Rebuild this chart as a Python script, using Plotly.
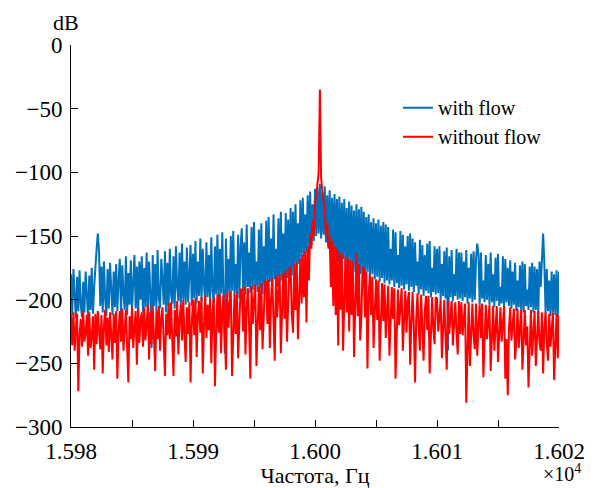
import plotly.graph_objects as go
import numpy as np

# frequency grid of the spectrum, Hz
freq_start = 15980.0
freq_step = 0.1

# spectrum level, dB (one row = 2 Hz)
with_flow = [
    -180, -212, -176, -198, -215, -182, -209, -177, -204, -214, -186, -210, -178, -196, -216, -181, -208, -175, -211, -190,
    -172, -160, -148, -163, -205, -174, -210, -170, -199, -213, -176, -207, -171, -193, -212, -178, -206, -172, -209, -185,
    -168, -211, -173, -195, -208, -166, -212, -179, -204, -169, -209, -187, -165, -207, -174, -213, -170, -200, -166, -210,
    -175, -206, -163, -209, -170, -194, -238, -165, -205, -172, -208, -161, -199, -207, -168, -184, -204, -162, -210, -171,
    -205, -160, -196, -203, -166, -207, -158, -190, -201, -163, -206, -156, -200, -170, -204, -159, -202, -181, -157, -205,
    -164, -199, -154, -203, -170, -197, -152, -201, -160, -188, -202, -155, -198, -165, -200, -151, -193, -203, -158, -196,
    -149, -200, -160, -195, -147, -199, -242, -152, -194, -168, -198, -150, -193, -146, -197, -172, -195, -149, -199, -158,
    -144, -193, -155, -196, -141, -190, -163, -195, -143, -192, -139, -189, -170, -194, -145, -191, -140, -196, -158, -188,
    -138, -191, -135, -186, -152, -189, -133, -184, -160, -190, -136, -187, -131, -185, -148, -188, -132, -183, -137, -186,
    -128, -181, -131, -178, -125, -176, -140, -172, -122, -170, -120, -166, -133, -163, -118, -160, -115, -157, -125, -154,
    -113, -150, -112, -148, -109, -152, -115, -149, -111, -155, -118, -157, -114, -161, -120, -163, -117, -166, -121, -170,
    -119, -172, -124, -168, -121, -175, -128, -171, -123, -177, -126, -174, -130, -178, -125, -176, -129, -180, -127, -179,
    -131, -181, -135, -178, -133, -183, -139, -180, -136, -184, -140, -182, -137, -186, -142, -183, -139, -187, -141, -185,
    -143, -188, -160, -185, -145, -190, -147, -187, -165, -191, -146, -189, -149, -192, -158, -188, -150, -193, -148, -190,
    -152, -194, -155, -189, -170, -196, -153, -192, -157, -197, -165, -193, -156, -195, -154, -198, -175, -194, -158, -196,
    -160, -195, -158, -200, -172, -197, -162, -199, -159, -240, -166, -198, -161, -201, -180, -197, -160, -200, -163, -199,
    -163, -201, -170, -198, -161, -203, -175, -199, -164, -202, -162, -200, -168, -156, -165, -204, -163, -199, -185, -202,
    -165, -200, -172, -204, -163, -202, -180, -206, -167, -201, -164, -205, -190, -203, -166, -207, -168, -202, -175, -205,
    -169, -207, -178, -204, -171, -209, -185, -206, -173, -208, -170, -210, -172, -205, -192, -208, -174, -206, -171, -210,
    -174, -208, -176, -211, -170, -190, -160, -148, -172, -211, -176, -209, -185, -213, -178, -210, -180, -212, -177, -214,
    -178,
]

without_flow = [
    -212, -236, -210, -240, -222, -211, -272, -228, -215, -237, -209, -233, -226, -212, -244, -210, -238, -230, -213, -255,
    -211, -235, -209, -230, -239, -212, -258, -220, -208, -236, -214, -241, -210, -228, -247, -211, -234, -209, -262, -225,
    -209, -233, -207, -240, -218, -208, -236, -265, -213, -231, -206, -238, -222, -209, -251, -207, -234, -216, -210, -237,
    -206, -232, -219, -204, -247, -210, -235, -205, -229, -256, -208, -231, -205, -240, -214, -206, -233, -260, -211, -228,
    -203, -231, -202, -226, -260, -208, -229, -201, -243, -215, -204, -232, -200, -228, -249, -206, -227, -202, -265, -219,
    -200, -228, -199, -245, -212, -201, -226, -198, -258, -221, -197, -230, -204, -224, -199, -250, -210, -198, -268, -225,
    -196, -226, -195, -242, -209, -197, -224, -255, -194, -222, -203, -193, -260, -218, -196, -227, -194, -246, -212, -192,
    -192, -225, -190, -243, -205, -191, -221, -262, -189, -219, -200, -188, -252, -216, -190, -224, -187, -239, -208, -186,
    -186, -219, -184, -238, -199, -183, -216, -248, -181, -214, -195, -180, -242, -211, -179, -215, -177, -233, -205, -176,
    -174, -212, -226, -172, -208, -170, -231, -205, -168, -203, -165, -198, -162, -218, -158, -185, -148, -160, -138, -150,
    -125, -118, -110, -100, -35, -104, -115, -122, -130, -150, -140, -160, -150, -190, -154, -205, -158, -212, -160, -236,
    -162, -208, -164, -240, -190, -166, -210, -168, -225, -169, -212, -170, -245, -200, -164, -213, -172, -232, -215, -174,
    -176, -214, -178, -254, -197, -180, -212, -182, -238, -210, -184, -216, -185, -248, -205, -187, -217, -188, -230, -214,
    -189, -244, -206, -190, -215, -191, -262, -218, -192, -220, -208, -191, -240, -219, -193, -226, -201, -194, -251, -218,
    -194, -221, -265, -214, -195, -222, -240, -196, -219, -248, -209, -197, -224, -197, -258, -215, -198, -223, -235, -198,
    -199, -225, -212, -200, -246, -223, -200, -230, -255, -201, -227, -213, -201, -236, -219, -202, -226, -243, -201, -227,
    -202, -228, -215, -203, -281, -227, -202, -252, -218, -203, -229, -239, -203, -244, -220, -204, -230, -203, -261, -226,
    -204, -231, -219, -204, -256, -230, -205, -240, -222, -205, -249, -228, -206, -233, -218, -205, -262, -231, -275, -222,
    -206, -232, -220, -207, -247, -233, -207, -238, -223, -208, -255, -231, -208, -236, -221, -269, -232, -208, -244, -225,
    -209, -252, -226, -209, -234, -240, -210, -258, -222, -210, -235, -248, -211, -237, -224, -210, -263, -230, -211, -246,
    -212,
]

x_tickvals = [15980, 15985, 15990, 15995, 16000, 16005, 16010, 16015, 16020]
x_ticktext = ["1.598", "", "1.599", "", "1.600", "", "1.601", "", "1.602"]
y_tickvals = [0, -50, -100, -150, -200, -250, -300]

font_family = "Liberation Serif"

freq_blue = freq_start + freq_step * np.arange(len(with_flow))
freq_red = freq_start + freq_step * np.arange(len(without_flow))

fig = go.Figure()
fig.add_trace(go.Scatter(
    x=freq_blue, y=with_flow, mode="lines", name="with flow",
    line=dict(color="#0072BD", width=2),
))
fig.add_trace(go.Scatter(
    x=freq_red, y=without_flow, mode="lines", name="without flow",
    line=dict(color="#FF0000", width=2),
))

axis_common = dict(
    showline=True, linecolor="black", linewidth=1,
    ticks="inside", ticklen=7, tickcolor="black",
    showgrid=False, zeroline=False, mirror=False, automargin=False,
    tickfont=dict(family=font_family, size=23, color="black"),
)

fig.update_xaxes(
    range=[15980, 16020], tickmode="array",
    tickvals=x_tickvals, ticktext=x_ticktext, ticklabelstandoff=3,
    title=dict(text="Частота, Гц", font=dict(family=font_family, size=22, color="black"),
               standoff=2),
    **axis_common,
)
fig.update_yaxes(
    range=[-300, 0], tickmode="array", tickvals=y_tickvals, ticklabelstandoff=3,
    **axis_common,
)

fig.add_annotation(text="dB", xref="paper", yref="paper", x=-0.01, y=1.02,
                   xanchor="center", yanchor="bottom", showarrow=False,
                   font=dict(family=font_family, size=22, color="black"))
fig.add_annotation(text="×10<sup>4</sup>", xref="paper", yref="paper", x=1.05, y=-0.085,
                   xanchor="right", yanchor="top", showarrow=False,
                   font=dict(family=font_family, size=20, color="black"))

fig.update_layout(
    width=596, height=488,
    margin=dict(l=71, r=37, t=45, b=61),
    plot_bgcolor="white", paper_bgcolor="white",
    showlegend=True,
    legend=dict(x=0.67, y=0.887, xanchor="left", yanchor="top",
                bgcolor="rgba(0,0,0,0)",
                font=dict(family=font_family, size=20, color="black")),
)

# the page's default body margin would shift the figure
fig.write_html("out.html", config={"displayModeBar": False},
               post_script="document.body.style.margin = '0';")
